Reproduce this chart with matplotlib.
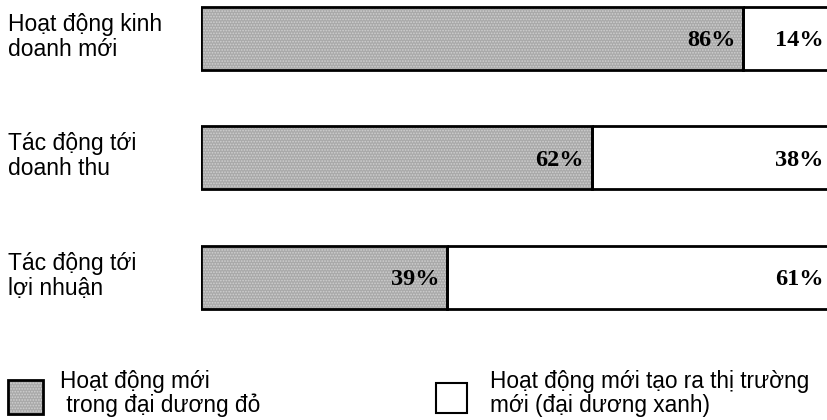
import matplotlib
matplotlib.use("Agg")
import matplotlib.pyplot as plt
from matplotlib.patches import Rectangle
from matplotlib.transforms import blended_transform_factory

categories = ["Hoạt động kinh\ndoanh mới", "Tác động tới\ndoanh thu", "Tác động tới\nlợi nhuận"]
red_ocean = [86, 62, 39]
blue_ocean = [14, 38, 61]
legend_labels = ["Hoạt động mới\n trong đại dương đỏ", "Hoạt động mới tạo ra thị trường\nmới (đại dương xanh)"]

W, H = 828, 420
fig = plt.figure(figsize=(W / 100, H / 100), dpi=100)
plt.rcParams['hatch.linewidth'] = 0.8

# trục: mép trái thanh ở x=201px, tâm thanh cách nhau 119.5px
unit = 119.5
top_px = 38.5 - 0.4 * unit
bot_px = 38.5 + 2.4 * unit
ax = fig.add_axes([201 / W, 1 - bot_px / H, (831 - 201) / W, (bot_px - top_px) / H])
ax.set_xlim(0, 100)
ax.set_ylim(2.4, -0.4)
ax.axis("off")

y = list(range(len(categories)))
h = 63 / unit

# phần xám (đại dương đỏ) - nền lốm đốm
ax.barh(y, red_ocean, height=h, color="#a9a9a9", edgecolor="#d0d0d0",
        linewidth=0, hatch="......")
ax.barh(y, blue_ocean, left=red_ocean, height=h, color="white", linewidth=0)
# viền
ax.barh(y, red_ocean, height=h, fill=False, edgecolor="black", linewidth=2)
ax.barh(y, blue_ocean, left=red_ocean, height=h, fill=False, edgecolor="black", linewidth=2)

pct_font = dict(family="Liberation Serif", fontweight="bold", fontsize=17.5, color="black")
for i in y:
    ax.text(red_ocean[i] - 1.2, i + 0.02, f"{red_ocean[i]}%", ha="right", va="center", **pct_font)
    ax.text(98.8, i + 0.02, f"{blue_ocean[i]}%", ha="right", va="center", **pct_font)

tr = blended_transform_factory(fig.transFigure, ax.transData)
for i, lab in enumerate(categories):
    ax.text(8 / W, i - h / 2 + 0.05, lab, transform=tr, ha="left", va="top",
            family="Liberation Sans", fontsize=16.5, linespacing=1.1)

# chú giải
fig.patches.append(Rectangle((8 / W, 1 - 414 / H), 35 / W, 34 / H, transform=fig.transFigure,
                             facecolor="#a9a9a9", edgecolor="#d0d0d0", linewidth=0,
                             hatch="......", figure=fig))
fig.patches.append(Rectangle((8 / W, 1 - 414 / H), 35 / W, 34 / H, transform=fig.transFigure,
                             fill=False, edgecolor="black", linewidth=2, figure=fig))
fig.patches.append(Rectangle((436 / W, 1 - 413 / H), 31 / W, 30 / H, transform=fig.transFigure,
                             facecolor="white", edgecolor="black", linewidth=1.5, figure=fig))
fig.text(60 / W, 1 - 370 / H, legend_labels[0], ha="left", va="top",
         family="Liberation Sans", fontsize=16.3, linespacing=1.05)
fig.text(490 / W, 1 - 370 / H, legend_labels[1], ha="left", va="top",
         family="Liberation Sans", fontsize=16.3, linespacing=1.05)

fig.savefig("out.png", dpi=100)
